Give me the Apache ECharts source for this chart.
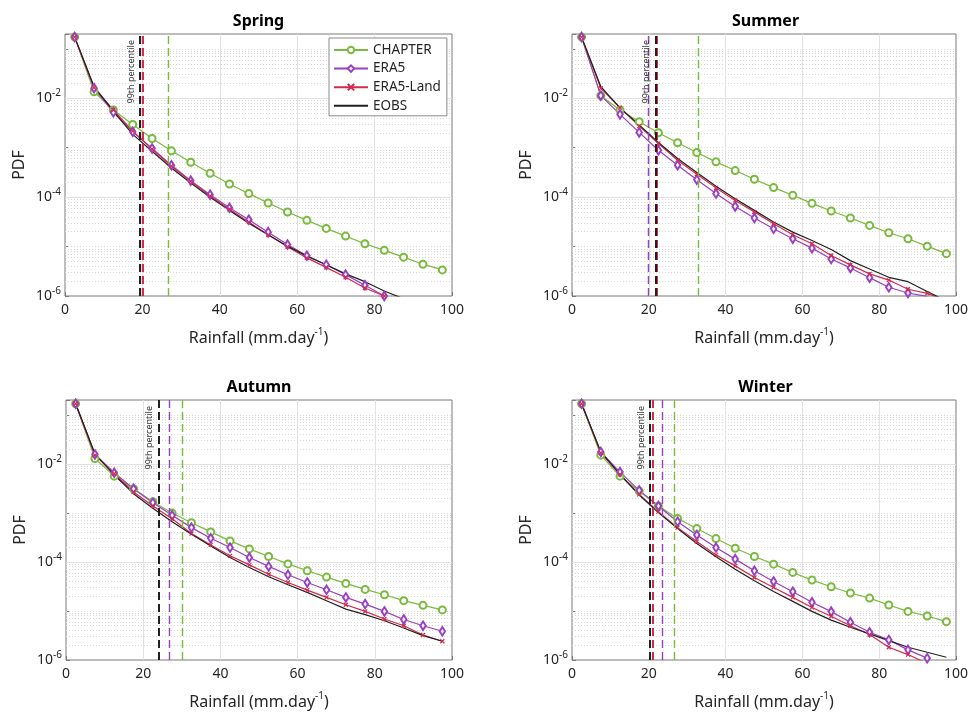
<!DOCTYPE html>
<html>
<head>
<meta charset="utf-8">
<script src="https://cdn.jsdelivr.net/npm/echarts@6/dist/echarts.min.js"></script>
<style>
html,body{margin:0;padding:0;background:#fff;}
#chart{width:971px;height:716px;}
</style>
</head>
<body>
<div id="chart"></div>
<script>
// ---------------- data ----------------
const rainfall = [2.5,7.5,12.5,17.5,22.5,27.5,32.5,37.5,42.5,47.5,52.5,57.5,62.5,67.5,72.5,77.5,82.5,87.5,92.5,97.5];
const seasons = ['Spring','Summer','Autumn','Winter'];
const products = ['CHAPTER','ERA5','ERA5-Land','EOBS'];
const xTicks = [0,20,40,60,80,100];
const yTickExponents = [-6,-4,-2];

const springCHAPTER  = [0.173,0.0136,0.0058,0.00296,0.00154,8.65e-4,5.09e-4,3.05e-4,1.85e-4,1.18e-4,7.6e-5,5.0e-5,3.39e-5,2.33e-5,1.63e-5,1.14e-5,8.4e-6,6.1e-6,4.4e-6,3.37e-6];
const springERA5     = [0.173,0.0160,0.0052,0.0021,9.7e-4,4.43e-4,2.16e-4,1.12e-4,6.1e-5,3.49e-5,1.96e-5,1.10e-5,6.5e-6,4.3e-6,2.71e-6,1.65e-6,1.0e-6];
const springERA5Land = [0.173,0.0165,0.0058,0.00217,9.4e-4,4.23e-4,2.1e-4,1.06e-4,5.7e-5,3.13e-5,1.73e-5,9.9e-6,5.9e-6,3.8e-6,2.39e-6,1.45e-6,1.0e-6];
const springEOBS     = [0.173,0.0173,0.0055,0.00186,8.5e-4,3.9e-4,1.94e-4,1.0e-4,5.4e-5,2.95e-5,1.73e-5,1.02e-5,6.4e-6,4.3e-6,2.8e-6,1.95e-6,1.26e-6,8.8e-7];

const summerCHAPTER  = [0.173,0.0113,0.0058,0.00336,0.00201,0.00126,8.0e-4,5.18e-4,3.45e-4,2.30e-4,1.56e-4,1.09e-4,7.5e-5,5.24e-5,3.78e-5,2.68e-5,1.90e-5,1.44e-5,1.02e-5,7.2e-6];
const summerERA5     = [0.173,0.0113,0.00473,0.00204,8.9e-4,4.43e-4,2.26e-4,1.18e-4,6.5e-5,3.78e-5,2.29e-5,1.44e-5,9.3e-6,5.6e-6,3.7e-6,2.35e-6,1.5e-6,1.15e-6,9.8e-7];
const summerERA5Land = [0.173,0.016,0.00646,0.00274,0.00122,5.6e-4,2.91e-4,1.54e-4,8.6e-5,5.0e-5,2.9e-5,1.73e-5,1.14e-5,6.6e-6,4.26e-6,2.8e-6,2.1e-6,1.37e-6,1.13e-6,8.0e-7];
const summerEOBS     = [0.173,0.0173,0.0064,0.00288,0.00128,6.05e-4,3.14e-4,1.66e-4,9.3e-5,5.4e-5,3.13e-5,1.96e-5,1.33e-5,8.7e-6,5.2e-6,3.53e-6,2.39e-6,1.95e-6,1.23e-6,8.0e-7];

const autumnCHAPTER  = [0.168,0.0128,0.0056,0.0031,0.00169,9.9e-4,6.3e-4,4.09e-4,2.68e-4,1.84e-4,1.29e-4,9.1e-5,6.6e-5,4.9e-5,3.64e-5,2.75e-5,2.14e-5,1.62e-5,1.30e-5,1.05e-5];
const autumnERA5     = [0.168,0.0155,0.00656,0.0031,0.00161,8.9e-4,5.0e-4,3.03e-4,1.96e-4,1.23e-4,8.1e-5,5.46e-5,3.81e-5,2.70e-5,1.89e-5,1.38e-5,9.8e-6,6.7e-6,5.0e-6,3.85e-6];
const autumnERA5Land = [0.168,0.0150,0.00627,0.00266,0.00138,7.6e-4,3.78e-4,2.22e-4,1.33e-4,8.7e-5,5.6e-5,3.81e-5,2.66e-5,1.89e-5,1.34e-5,9.8e-6,6.85e-6,5.0e-6,3.24e-6,2.41e-6];
const autumnEOBS     = [0.168,0.016,0.0059,0.00246,0.00124,6.6e-4,3.66e-4,2.12e-4,1.23e-4,7.7e-5,4.97e-5,3.42e-5,2.39e-5,1.62e-5,1.09e-5,8.4e-6,6.3e-6,4.5e-6,3.14e-6,2.41e-6];

const winterCHAPTER  = [0.168,0.0150,0.0056,0.00278,0.00138,7.7e-4,4.78e-4,2.99e-4,1.90e-4,1.29e-4,9.0e-5,6.1e-5,4.26e-5,3.11e-5,2.32e-5,1.83e-5,1.32e-5,9.8e-6,7.9e-6,6.05e-6];
const winterERA5     = [0.168,0.0175,0.00678,0.00287,0.00138,6.6e-4,3.55e-4,1.96e-4,1.14e-4,6.6e-5,4.0e-5,2.47e-5,1.50e-5,9.7e-6,5.9e-6,3.67e-6,2.57e-6,1.61e-6,1.09e-6];
const winterERA5Land = [0.168,0.0167,0.0061,0.00238,1.06e-3,5.0e-4,2.60e-4,1.39e-4,8.3e-5,4.82e-5,3.02e-5,1.89e-5,1.18e-5,7.8e-6,5.0e-6,3.3e-6,1.82e-6,1.29e-6,8.5e-7];
const winterEOBS     = [0.168,0.0175,0.0061,0.00231,1.01e-3,4.78e-4,2.37e-4,1.27e-4,7.1e-5,4.12e-5,2.5e-5,1.57e-5,9.8e-6,6.5e-6,4.65e-6,3.4e-6,2.49e-6,1.82e-6,1.44e-6,1.14e-6];

// 99th percentile per season (Spring, Summer, Autumn, Winter)
const p99CHAPTER  = [26.8, 32.9, 30.1, 26.5];
const p99ERA5     = [20.0, 19.9, 26.8, 23.6];
const p99ERA5Land = [20.2, 22.1, 24.0, 21.0];
const p99EOBS     = [19.4, 21.7, 23.9, 20.2];

// ---------------- styling ----------------
const FONT = '"Noto Sans", "Open Sans", sans-serif';
const TXT = '#262626';
const BORDER = '#7a7a7a';
const COLORS = {'CHAPTER':'#7aba3e','ERA5':'#9a3fc4','ERA5-Land':'#d42a4c','EOBS':'#202020'};
const YMIN = 1e-6, YMAX = 0.2;

const seasonData = [
  [springCHAPTER, springERA5, springERA5Land, springEOBS],
  [summerCHAPTER, summerERA5, summerERA5Land, summerEOBS],
  [autumnCHAPTER, autumnERA5, autumnERA5Land, autumnEOBS],
  [winterCHAPTER, winterERA5, winterERA5Land, winterEOBS]
];
const p99 = [p99CHAPTER, p99ERA5, p99ERA5Land, p99EOBS];

const gridsPx = [
  {left:65,  top:34,  width:387, height:262},
  {left:572, top:34,  width:387, height:262},
  {left:66,  top:400, width:386, height:260},
  {left:572, top:400, width:387, height:260}
];

const symbolCfg = {
  'CHAPTER':   {symbol:'emptyCircle', symbolSize:7},
  'ERA5':      {symbol:'emptyDiamond', symbolSize:[5.5,8.5]},
  'ERA5-Land': {symbol:'path://M0,0L10,10M10,0L0,10', symbolSize:4},
  'EOBS':      {symbol:'none', symbolSize:0}
};

function gridLineData(){
  const d = [];
  const major = {color:'#e2e2e2', width:1, type:'solid'};
  const minor = {color:'#d8d8d8', width:1, type:[1,2]};
  for (let e=-6; e<=-1; e++){
    for (let k=1; k<=9; k++){
      const v = k*Math.pow(10,e);
      if (v <= YMIN*1.0001 || v >= YMAX*0.9999) continue;
      const isMajor = (k===1 && yTickExponents.indexOf(e) >= 0);
      d.push({yAxis:v, lineStyle: isMajor ? major : minor});
    }
  }
  xTicks.slice(1,-1).forEach(x => d.push({xAxis:x, lineStyle: major}));
  return d;
}

function yLabel(v){
  const l = Math.log10(v);
  const e = Math.round(l);
  if (Math.abs(l-e) > 1e-6 || yTickExponents.indexOf(e) < 0) return '';
  return '{b|10}{s|' + e + '}';
}

const grid=[], xAxis=[], yAxis=[], series=[], graphic=[];
gridsPx.forEach((g,i)=>{
  grid.push(Object.assign({show:true, borderColor:BORDER, borderWidth:1, backgroundColor:'#fff'}, g));
  xAxis.push({
    type:'value', gridIndex:i, min:0, max:100, interval:20,
    splitLine:{show:false}, axisLine:{show:false},
    axisTick:{show:true, inside:true, length:4, lineStyle:{color:BORDER}},
    axisLabel:{fontSize:14, color:TXT, fontFamily:FONT, margin:7},
    name:'{a|Rainfall (mm.day}{s|-1}{a|)}', nameLocation:'middle', nameGap:31,
    nameTextStyle:{rich:{
      a:{fontSize:16, color:TXT, fontFamily:FONT, lineHeight:22},
      s:{fontSize:10, color:TXT, fontFamily:FONT, lineHeight:12, verticalAlign:'top'}
    }}
  });
  yAxis.push({
    type:'log', logBase:10, gridIndex:i, min:YMIN, max:YMAX,
    splitLine:{show:false}, axisLine:{show:false},
    axisTick:{show:true, inside:true, length:4, lineStyle:{color:BORDER}},
    axisLabel:{formatter:yLabel, margin:4, rich:{
      b:{fontSize:14, color:TXT, fontFamily:FONT, lineHeight:20},
      s:{fontSize:10, color:TXT, fontFamily:FONT, lineHeight:11, verticalAlign:'top'}
    }},
    name:'PDF', nameLocation:'middle', nameGap:38,
    nameTextStyle:{fontSize:16, color:TXT, fontFamily:FONT}
  });
  // grid lines (behind data)
  series.push({
    name:'_grid'+i, type:'line', xAxisIndex:i, yAxisIndex:i, data:[], silent:true,
    markLine:{silent:true, z:1, precision:12, symbol:['none','none'], animation:false,
      label:{show:false}, data:gridLineData()}
  });
  products.forEach((p,j)=>{
    const vals = seasonData[i][j];
    const isEOBS = p==='EOBS';
    series.push({
      name:p, type:'line', xAxisIndex:i, yAxisIndex:i, z:2,
      data: vals.map((v,k)=>[rainfall[k], v]),
      symbol: symbolCfg[p].symbol, symbolSize: symbolCfg[p].symbolSize,
      showSymbol: !isEOBS,
      lineStyle:{color:COLORS[p], width:1.2},
      itemStyle:{color:COLORS[p], borderColor:COLORS[p], borderWidth:1.2},
      emphasis:{disabled:true},
      markLine:{silent:true, z:3, precision:6, symbol:['none','none'], animation:false,
        lineStyle:{color:COLORS[p], type:[8,4], width:(p==='EOBS'||p==='ERA5-Land')?2:1.4},
        label: isEOBS ? {show:true, position:'insideEndTop', formatter:'99th percentile',
            fontSize:9, color:'#333', fontFamily:FONT, distance:[6,4]} : {show:false},
        data:[{xAxis:p99[j][i]}]}
    });
  });
  graphic.push({type:'text', x:g.left+g.width/2, y:g.top-13, silent:true,
    style:{text:seasons[i], font:'bold 16px '+FONT, fill:'#000', align:'center', verticalAlign:'middle'}});
});

const chart = echarts.init(document.getElementById('chart'), null, {renderer:'canvas'});
chart.setOption({
  animation:false,
  backgroundColor:'#fff',
  grid, xAxis, yAxis, series, graphic,
  legend:{
    data:[
      {name:'CHAPTER'},
      {name:'ERA5'},
      {name:'ERA5-Land'},
      {name:'EOBS', itemStyle:{opacity:0}}
    ],
    orient:'vertical', left:329, top:38,
    itemWidth:34, itemHeight:8, itemGap:4.6,
    padding:[5,6,3,4], borderColor:'#8a8a8a', borderWidth:1, backgroundColor:'#fff',
    textStyle:{fontSize:13.5, lineHeight:14, color:TXT, fontFamily:FONT},
    selectedMode:false
  }
});
</script>
</body>
</html>
